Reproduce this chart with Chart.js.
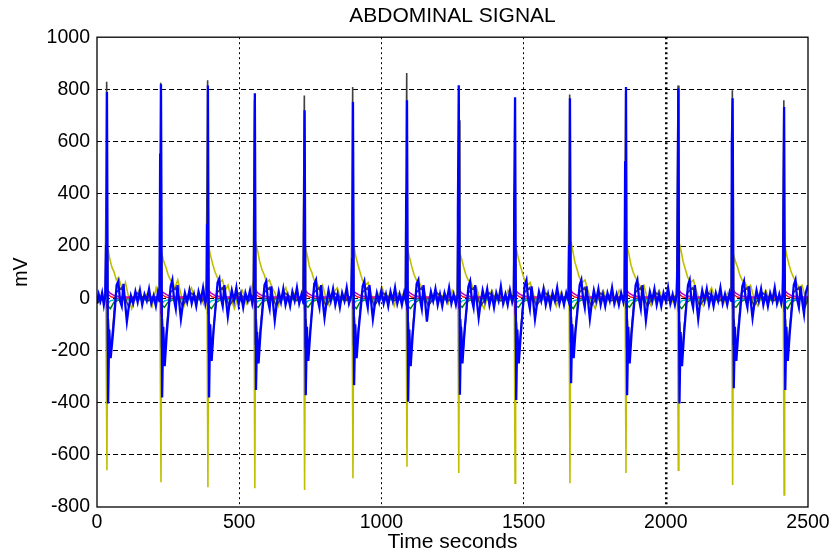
<!DOCTYPE html>
<html>
<head>
<meta charset="utf-8">
<script src="https://cdn.jsdelivr.net/npm/chart.js@4/dist/chart.umd.min.js"></script>
<style>
  body { margin: 0; background: #fff; }
  #wrap { width: 830px; height: 553px; }
</style>
</head>
<body>
<div id="wrap"><canvas id="abd" width="830" height="553"></canvas></div>
<script>
// axis ticks
var xTickValues = [0, 500, 1000, 1500, 2000, 2500]
var yTickValues = [-800, -600, -400, -200, 0, 200, 400, 600, 800, 1000]

// signals, [time, mV]
var blueSignal = [
  [0,-20],[6,15],[12,-10],[18,20],[24,-25],[29,10],
  [32,200],[35,790],[39,-403],[43,-120],[48,-230],[55,-150],[63,-40],[69,50],[75,65],[81,-10],[87,-30],[93,55],[99,-20],[105,-90],[111,-40],[119,10],[127,-20],[135,25],[143,-15],[151,30],[159,-25],[167,15],[175,-10],[183,35],[191,-20],[199,10],[207,-30],[214,20],[220,-15],
  [222,550],[225,820],[229,-380],[233,-110],[238,-260],[245,-140],[253,-30],[259,45],[265,70],[271,-5],[277,-40],[283,50],[289,-15],[295,-80],[301,-30],[309,20],[317,-15],[325,30],[333,-20],[341,15],[349,-30],[357,25],[365,-10],[373,40],[381,-20],[386,10],
  [387,280],[390,815],[394,-380],[398,-100],[403,-240],[410,-120],[418,-20],[424,60],[430,75],[436,0],[442,-30],[448,50],[454,-10],[460,-70],[466,-20],[474,30],[482,-10],[490,40],[498,-25],[506,15],[514,-35],[522,20],[530,-10],[538,30],[546,-20],[551,10],
  [552,60],[555,785],[559,-352],[563,-130],[568,-250],[575,-130],[583,-30],[589,50],[595,65],[601,-10],[607,-40],[613,45],[619,-20],[625,-85],[631,-30],[639,25],[647,-15],[655,35],[663,-25],[671,10],[679,-30],[687,25],[695,-10],[703,40],[711,-20],[719,15],[726,-20],
  [727,100],[730,720],[734,-372],[738,-110],[743,-240],[750,-130],[758,-20],[764,55],[770,70],[776,-5],[782,-35],[788,50],[794,-15],[800,-75],[806,-25],[814,30],[822,-10],[830,35],[838,-25],[846,15],[854,-35],[862,20],[870,-10],[878,40],[886,-20],[894,10],
  [897,150],[900,752],[904,-333],[908,-100],[913,-230],[920,-120],[928,-30],[934,45],[940,65],[946,0],[952,-35],[958,50],[964,-15],[970,-80],[976,-30],[984,20],[992,-15],[1000,30],[1008,-20],[1016,15],[1024,-30],[1032,25],[1040,-10],[1048,40],[1056,-20],[1064,15],[1072,-25],[1080,20],[1086,-10],
  [1087,400],[1090,758],[1094,-397],[1098,-120],[1103,-260],[1110,-140],[1118,-30],[1124,55],[1130,70],[1136,-5],[1142,-40],[1148,50],[1154,-15],[1160,-90],[1166,-30],[1174,25],[1182,-10],[1190,35],[1198,-25],[1206,15],[1214,-30],[1222,20],[1230,-10],[1238,40],[1246,-20],[1254,15],[1262,-25],[1268,10],
  [1269,330],[1272,816],[1276,-370],[1280,-110],[1285,-250],[1292,-130],[1300,-30],[1306,45],[1312,65],[1318,-5],[1324,-35],[1330,50],[1336,-15],[1342,-75],[1348,-25],[1356,30],[1364,-10],[1372,35],[1380,-25],[1388,15],[1396,-35],[1404,20],[1412,-10],[1420,45],[1428,-20],[1436,15],[1444,-25],[1452,30],[1460,-15],[1466,10],
  [1467,370],[1470,770],[1474,-390],[1478,-120],[1483,-250],[1490,-140],[1498,-30],[1504,50],[1510,70],[1516,-5],[1522,-40],[1528,45],[1534,-15],[1540,-80],[1546,-30],[1554,25],[1562,-10],[1570,35],[1578,-25],[1586,15],[1594,-30],[1602,20],[1610,-10],[1618,40],[1626,-20],[1634,15],[1642,-25],[1650,20],[1658,-10],
  [1660,200],[1663,766],[1667,-326],[1671,-100],[1676,-230],[1683,-120],[1691,-30],[1697,50],[1703,70],[1709,0],[1715,-35],[1721,45],[1727,-15],[1733,-80],[1739,-25],[1747,30],[1755,-10],[1763,35],[1771,-25],[1779,15],[1787,-30],[1795,20],[1803,-10],[1811,40],[1819,-20],[1827,15],[1835,-25],[1843,20],[1851,-15],[1855,10],
  [1857,520],[1860,809],[1864,-372],[1868,-110],[1873,-250],[1880,-130],[1888,-30],[1894,50],[1900,70],[1906,-5],[1912,-40],[1918,50],[1924,-15],[1930,-85],[1936,-30],[1944,25],[1952,-10],[1960,35],[1968,-25],[1976,15],[1984,-30],[1992,20],[2000,-10],[2008,40],[2016,-20],[2024,15],[2032,-25],[2038,10],
  [2041,120],[2044,803],[2048,-403],[2052,-130],[2057,-260],[2064,-140],[2072,-30],[2078,50],[2084,70],[2090,-5],[2096,-35],[2102,50],[2108,-15],[2114,-80],[2120,-25],[2128,30],[2136,-10],[2144,35],[2152,-25],[2160,15],[2168,-30],[2176,20],[2184,-10],[2192,40],[2200,-20],[2208,15],[2216,-25],[2224,20],[2230,-10],
  [2232,578],[2235,766],[2239,-345],[2243,-110],[2248,-240],[2255,-130],[2263,-30],[2269,45],[2275,65],[2281,-5],[2287,-35],[2293,45],[2299,-15],[2305,-75],[2311,-25],[2319,30],[2327,-10],[2335,35],[2343,-25],[2351,15],[2359,-30],[2367,20],[2375,-10],[2383,40],[2391,-20],[2399,15],[2406,-20],[2411,10],
  [2413,100],[2416,733],[2420,-352],[2424,-110],[2429,-240],[2436,-130],[2444,-30],[2450,50],[2456,70],[2462,-5],[2468,-35],[2474,45],[2480,-15],[2486,-60],[2492,20],[2500,50]
]

var yellowSignal = [
  [0,10],[10,-20],[20,15],[28,-10],
  [31,20],[35,-659],[37,-150],[39,188],[45,150],[52,120],[60,100],[68,70],[76,80],[84,50],[92,30],[100,60],[110,10],[122,-40],[134,0],[148,30],[162,-10],[178,20],[194,-30],[208,40],[218,0],
  [221,30],[225,-705],[227,-150],[229,165],[235,140],[242,120],[250,90],[258,70],[266,60],[274,40],[284,70],[294,20],[306,-30],[318,10],[332,40],[346,-10],[360,20],[374,-20],[384,60],
  [387,20],[390,-724],[392,-180],[394,190],[400,160],[407,130],[415,100],[423,80],[431,60],[441,70],[451,30],[461,50],[471,0],[483,-40],[497,10],[511,30],[525,-20],[539,20],[549,60],
  [552,10],[555,-728],[557,-160],[559,210],[565,180],[572,140],[580,110],[588,90],[596,60],[606,70],[616,40],[626,20],[638,-30],[650,10],[664,40],[678,-20],[692,20],[706,-10],[720,0],
  [727,20],[730,-735],[732,-170],[734,190],[740,160],[747,120],[755,100],[763,70],[773,60],[783,30],[793,50],[805,0],[817,-30],[831,20],[845,40],[859,-10],[873,20],[887,-20],
  [897,10],[900,-690],[902,-150],[904,195],[910,160],[917,130],[925,100],[933,70],[943,50],[953,60],[963,20],[975,-20],[989,10],[1003,40],[1017,-10],[1031,20],[1045,-30],[1059,20],[1073,10],[1083,30],
  [1087,10],[1090,-646],[1092,-140],[1094,180],[1100,150],[1107,120],[1115,90],[1123,70],[1133,60],[1143,40],[1153,20],[1165,-30],[1179,10],[1193,30],[1207,-10],[1221,20],[1235,-20],[1249,30],[1262,0],
  [1269,20],[1272,-670],[1274,-150],[1276,172],[1282,150],[1289,120],[1297,90],[1305,70],[1315,60],[1325,30],[1335,40],[1347,-10],[1361,-40],[1375,10],[1389,30],[1403,-10],[1417,20],[1431,-20],[1445,30],[1458,0],
  [1467,20],[1470,-709],[1472,-160],[1474,190],[1480,160],[1487,130],[1495,100],[1503,70],[1513,50],[1523,60],[1533,20],[1545,-20],[1559,10],[1573,40],[1587,-10],[1601,20],[1615,-30],[1629,20],[1643,-10],[1655,20],
  [1660,10],[1663,-709],[1665,-170],[1667,216],[1673,180],[1680,140],[1688,110],[1696,80],[1706,60],[1716,70],[1726,30],[1738,-10],[1752,-40],[1766,10],[1780,30],[1794,-10],[1808,20],[1822,-20],[1836,30],[1850,0],
  [1857,20],[1860,-670],[1862,-150],[1864,200],[1870,170],[1877,130],[1885,100],[1893,80],[1903,60],[1913,40],[1923,50],[1935,0],[1949,-30],[1963,10],[1977,30],[1991,-10],[2005,20],[2019,-20],[2033,10],
  [2041,20],[2044,-659],[2046,-150],[2048,210],[2054,180],[2061,140],[2069,110],[2077,80],[2087,60],[2097,70],[2107,30],[2119,-10],[2133,-30],[2147,10],[2161,40],[2175,-10],[2189,20],[2203,-20],[2217,20],[2228,0],
  [2232,20],[2235,-716],[2237,-160],[2239,165],[2245,140],[2252,120],[2260,90],[2268,70],[2278,60],[2288,40],[2298,50],[2310,0],[2324,-30],[2338,10],[2352,30],[2366,-10],[2380,20],[2394,-20],[2406,10],
  [2413,20],[2416,-754],[2418,-170],[2420,195],[2426,160],[2433,130],[2441,100],[2449,80],[2459,60],[2469,40],[2479,50],[2489,10],[2500,-20]
]

var graySignal = [
  [0,-20],[20,0],
  [29,10],[34,829],[37,-200],[40,-80],[47,-225],[55,-120],[66,20],[86,40],[110,-30],[140,20],[180,-10],
  [219,10],[224,825],[227,-190],[230,-80],[237,-230],[245,-110],[256,20],[276,40],[300,-30],[330,20],[370,-10],
  [384,10],[389,835],[392,-210],[395,-90],[402,-240],[410,-120],[421,20],[441,40],[465,-30],[495,20],[535,-10],
  [549,10],[554,760],[557,-180],[560,-80],[567,-210],[575,-110],[586,20],[606,40],[630,-30],[660,20],[700,-10],
  [724,10],[729,777],[732,-190],[735,-80],[742,-230],[750,-120],[761,20],[781,40],[805,-30],[835,20],[875,-10],
  [894,10],[899,809],[902,-180],[905,-70],[912,-200],[920,-110],[931,20],[951,40],[975,-30],[1005,20],[1045,-10],
  [1084,10],[1089,863],[1092,-200],[1095,-90],[1102,-237],[1110,-120],[1121,20],[1141,40],[1165,-30],[1195,20],[1235,-10],
  [1266,10],[1273,682],[1276,-190],[1279,-80],[1286,-220],[1294,-110],[1305,20],[1325,40],[1349,-30],[1379,20],[1419,-10],
  [1464,10],[1469,420],[1472,-200],[1475,-90],[1482,-230],[1490,-120],[1501,20],[1521,40],[1545,-30],[1575,20],[1615,-10],
  [1657,10],[1662,780],[1665,-170],[1668,-70],[1675,-200],[1683,-110],[1694,20],[1714,40],[1738,-30],[1768,20],[1808,-10],
  [1854,10],[1859,790],[1862,-190],[1865,-80],[1872,-220],[1880,-110],[1891,20],[1911,40],[1935,-30],[1965,20],[2005,-10],
  [2038,10],[2043,815],[2046,-200],[2049,-90],[2056,-240],[2064,-120],[2075,20],[2095,40],[2119,-30],[2149,20],[2189,-10],
  [2229,10],[2234,797],[2237,-180],[2240,-80],[2247,-210],[2255,-110],[2266,20],[2286,40],[2310,-30],[2340,20],[2380,-10],
  [2410,10],[2415,758],[2418,-190],[2421,-80],[2428,-220],[2436,-110],[2447,20],[2467,40],[2491,-30],[2500,0]
]

var greenSignal = [
  [0,-5],
  [32,-5],[35,60],[38,-30],[47,-40],[60,-15],[80,-5],
  [222,-5],[225,40],[228,-25],[237,-35],[250,-15],[270,-5],
  [387,-5],[390,100],[393,-30],[402,-40],[415,-20],[435,-5],
  [552,-5],[555,50],[558,-30],[567,-35],[580,-15],[600,-5],
  [727,-5],[730,40],[733,-25],[742,-35],[755,-15],[775,-5],
  [897,-5],[900,80],[903,-30],[912,-40],[925,-15],[945,-5],
  [1087,-5],[1090,90],[1093,-30],[1102,-40],[1115,-20],[1135,-5],
  [1269,-5],[1272,60],[1275,-25],[1284,-35],[1297,-15],[1317,-5],
  [1467,-5],[1470,70],[1473,-30],[1482,-35],[1495,-15],[1515,-5],
  [1660,-5],[1663,100],[1666,-30],[1675,-40],[1688,-15],[1708,-5],
  [1857,-5],[1860,50],[1863,-25],[1872,-35],[1885,-15],[1905,-5],
  [2041,-5],[2044,70],[2047,-30],[2056,-40],[2069,-20],[2089,-5],
  [2232,-5],[2235,60],[2238,-30],[2247,-35],[2260,-15],[2280,-5],
  [2413,-5],[2416,90],[2419,-30],[2428,-40],[2441,-15],[2461,-5],[2500,-5]
]

var redSignal = [
  [0,0],
  [34,0],[36,-30],[39,15],[50,5],[70,0],
  [224,0],[226,-70],[229,15],[240,5],[260,0],
  [389,0],[391,-50],[394,15],[405,5],[425,0],
  [554,0],[556,-30],[559,15],[570,5],[590,0],
  [729,0],[731,-40],[734,15],[745,5],[765,0],
  [899,0],[901,-30],[904,15],[915,5],[935,0],
  [1089,0],[1091,-40],[1094,15],[1105,5],[1125,0],
  [1271,0],[1273,-30],[1276,15],[1287,5],[1307,0],
  [1469,0],[1471,-70],[1474,15],[1485,5],[1505,0],
  [1662,0],[1664,-40],[1667,15],[1678,5],[1698,0],
  [1859,0],[1861,-30],[1864,15],[1875,5],[1895,0],
  [2043,0],[2045,-40],[2048,15],[2059,5],[2079,0],
  [2234,0],[2236,-30],[2239,15],[2250,5],[2270,0],
  [2415,0],[2417,-40],[2420,15],[2431,5],[2451,0],[2500,0]
]

var cyanSignal = [
  [0,-5],
  [34,-5],[35,30],[39,-20],[47,-10],[65,-5],
  [224,-5],[225,20],[229,-20],[237,-10],[255,-5],
  [389,-5],[390,40],[394,-20],[402,-10],[420,-5],
  [554,-5],[555,30],[559,-20],[567,-10],[585,-5],
  [729,-5],[730,20],[734,-20],[742,-10],[760,-5],
  [899,-5],[900,30],[904,-20],[912,-10],[930,-5],
  [1089,-5],[1090,30],[1094,-20],[1102,-10],[1120,-5],
  [1271,-5],[1272,20],[1276,-20],[1284,-10],[1302,-5],
  [1469,-5],[1470,30],[1474,-20],[1482,-10],[1500,-5],
  [1662,-5],[1663,40],[1667,-20],[1675,-10],[1693,-5],
  [1859,-5],[1860,30],[1864,-20],[1872,-10],[1890,-5],
  [2043,-5],[2044,20],[2048,-20],[2056,-10],[2074,-5],
  [2234,-5],[2235,30],[2239,-20],[2247,-10],[2265,-5],
  [2415,-5],[2416,30],[2420,-20],[2428,-10],[2446,-5],[2500,-5]
]

var magentaSignal = [
  [0,5],
  [33,5],[35,-40],[38,30],[45,20],[60,10],[85,5],
  [223,5],[225,-60],[228,25],[235,20],[250,10],[275,5],
  [388,5],[390,-60],[393,30],[400,20],[415,10],[440,5],
  [553,5],[555,-40],[558,30],[565,20],[580,10],[605,5],
  [728,5],[730,-50],[733,30],[740,20],[755,10],[780,5],
  [898,5],[900,-40],[903,25],[910,20],[925,10],[950,5],
  [1088,5],[1090,-50],[1093,30],[1100,20],[1115,10],[1140,5],
  [1270,5],[1272,-40],[1275,30],[1282,20],[1297,10],[1322,5],
  [1468,5],[1470,-60],[1473,30],[1480,20],[1495,10],[1520,5],
  [1661,5],[1663,-50],[1666,30],[1673,20],[1688,10],[1713,5],
  [1858,5],[1860,-40],[1863,30],[1870,20],[1885,10],[1910,5],
  [2042,5],[2044,-50],[2047,30],[2054,20],[2069,10],[2094,5],
  [2233,5],[2235,-40],[2238,30],[2245,20],[2260,10],[2285,5],
  [2414,5],[2416,-50],[2419,30],[2426,20],[2441,10],[2466,5],[2500,5]
]

function toPoints(pairs){
    return pairs.map(function(p){ return {x: p[0], y: p[1]} })
}

function lineSet(pairs, color, width, order){
    return {
        data: toPoints(pairs),
        borderColor: color,
        borderWidth: width,
        pointRadius: 0,
        tension: 0,
        fill: false,
        order: order
    }
}

//box round the plot area, like the matlab axes
var framePlugin = {
    id: 'frame',
    afterDatasetsDraw: function(chart){
        var a = chart.chartArea
        var ctx = chart.ctx
        ctx.save()
        ctx.strokeStyle = '#000'
        ctx.lineWidth = 1.3
        ctx.setLineDash([])
        ctx.strokeRect(a.left, a.top, a.right - a.left, a.bottom - a.top)
        ctx.restore()
    }
}

var font = "'Liberation Sans', Arial, sans-serif"

new Chart(document.getElementById('abd'), {
    type: 'line',
    data: {
        datasets: [
            lineSet(blueSignal, 'rgb(0,0,255)', 2.3, 1),
            lineSet(graySignal, 'rgb(64,64,64)', 1.6, 2),
            lineSet(cyanSignal, 'rgb(0,191,191)', 1.5, 3),
            lineSet(magentaSignal, 'rgb(191,0,191)', 1.5, 4),
            lineSet(redSignal, 'rgb(255,0,0)', 1.3, 5),
            lineSet(greenSignal, 'rgb(0,128,0)', 1.5, 6),
            lineSet(yellowSignal, 'rgb(191,191,0)', 1.6, 7)
        ]
    },
    options: {
        responsive: false,
        animation: false,
        events: [],
        layout: { padding: { left: 0, right: 22, top: 0, bottom: 0 } },
        plugins: {
            legend: { display: false },
            tooltip: { enabled: false },
            title: {
                display: true,
                text: 'ABDOMINAL SIGNAL',
                fullSize: false,
                color: '#000',
                font: { family: font, size: 21, weight: 'normal', lineHeight: 1.2 },
                padding: { top: 4, bottom: 8 }
            }
        },
        scales: {
            x: {
                type: 'linear',
                min: 0,
                max: 2500,
                afterBuildTicks: function(scale){
                    scale.ticks = xTickValues.map(function(v){ return {value: v} })
                },
                afterFit: function(scale){
                    scale.height = 46
                    // let the end labels hang over the margin, keep plot edges fixed
                    scale.paddingLeft = 0
                    scale.paddingRight = 0
                },
                ticks: {
                    color: '#000',
                    padding: 4,
                    maxRotation: 0,
                    autoSkip: false,
                    font: { family: font, size: 19.5 },
                    callback: function(v){ return String(v) }
                },
                grid: {
                    drawTicks: false,
                    color: function(c){
                        var v = c.tick ? c.tick.value : null
                        return (v === 0 || v === 2500) ? 'rgba(0,0,0,0)' : '#000'
                    },
                    lineWidth: function(c){
                        return (c.tick && c.tick.value === 2000) ? 2.5 : 1
                    }
                },
                border: { display: false, dash: [2, 3] },
                title: {
                    display: true,
                    text: 'Time seconds',
                    color: '#000',
                    font: { family: font, size: 21, lineHeight: 1.0 },
                    padding: { top: 0, bottom: 0 }
                }
            },
            y: {
                type: 'linear',
                min: -800,
                max: 1000,
                afterBuildTicks: function(scale){
                    scale.ticks = yTickValues.map(function(v){ return {value: v} })
                },
                afterFit: function(scale){
                    scale.width = 97
                    scale.paddingTop = 0
                    scale.paddingBottom = 0
                },
                ticks: {
                    color: '#000',
                    padding: 7,
                    font: { family: font, size: 19.5 },
                    callback: function(v){ return String(v) }
                },
                grid: {
                    drawTicks: false,
                    color: function(c){
                        var v = c.tick ? c.tick.value : null
                        return (v === -800 || v === 1000) ? 'rgba(0,0,0,0)' : '#000'
                    },
                    lineWidth: 1
                },
                border: { display: false, dash: [5, 3] },
                title: {
                    display: true,
                    text: 'mV',
                    color: '#000',
                    font: { family: font, size: 19.5, lineHeight: 1.2 },
                    padding: { top: 10, bottom: 0 }
                }
            }
        }
    },
    plugins: [framePlugin]
})
</script>
</body>
</html>
